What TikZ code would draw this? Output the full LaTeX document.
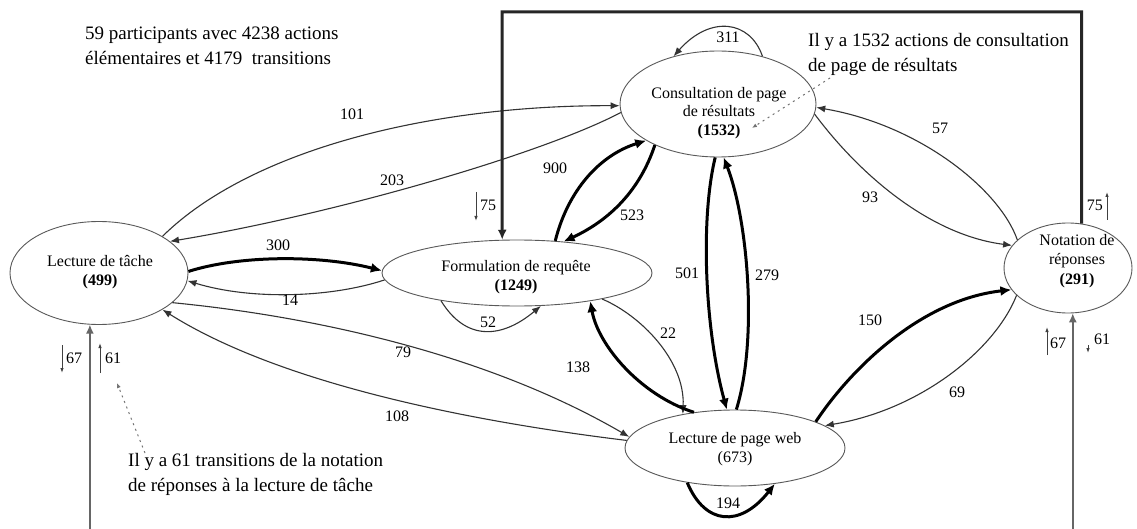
\documentclass[tikz,border=0pt]{standalone}
\usepackage{fontspec}
\setmainfont{Liberation Serif}
\usetikzlibrary{shapes.geometric,arrows.meta}
\begin{document}
\begin{tikzpicture}[x=1pt,y=-1pt,
  ell/.style={ellipse, draw=black!65, line width=0.9pt, fill=white, inner sep=0pt},
  ntext/.style={align=center, font=\fontsize{16}{19.5}\selectfont, inner sep=0pt},
  num/.style={font=\fontsize{16}{19}\selectfont, inner sep=0pt},
  note/.style={align=left, font=\fontsize{19}{25}\selectfont, inner sep=0pt, anchor=north west},
  thinarr/.style={draw=black!80, line width=1.1pt, -{Latex[length=9pt,width=7pt]}},
  thickarr/.style={draw=black, line width=3pt, -{Latex[length=11pt,width=10pt]}},
  toploop/.style={draw=black!85, line width=3pt, -{Latex[length=10pt,width=9pt]}},
  basearr/.style={draw=black!60, line width=1.5pt, -{Latex[length=9pt,width=8pt]}},
  smallarr/.style={draw=black!75, line width=0.9pt, -{Latex[length=5pt,width=3.5pt]}},
  dotarr/.style={draw=black!55, line width=1pt, dash pattern=on 2pt off 4pt, -{Latex[length=5pt,width=4pt]}}
]
\fill[white] (0,0) rectangle (1137,529);
\useasboundingbox (0,0) rectangle (1137,529);

% ellipses
\node[ell, minimum width=178pt, minimum height=103pt] (lt) at (99,273) {};
\node[ell, minimum width=270pt, minimum height=66pt] (fr) at (517,273) {};
\node[ell, minimum width=196pt, minimum height=106pt] (cp) at (718,104) {};
\node[ell, minimum width=220pt, minimum height=76pt] (wb) at (735,448) {};
\node[ell, minimum width=128pt, minimum height=90pt] (nr) at (1068,268) {};

% node texts
\node[ntext] (ltt) at (100,272) {Lecture de tâche\\\textbf{(499)}};
\node[ntext] (frt) at (516,277) {Formulation de requête\\\textbf{(1249)}};
\node[ntext, font=\fontsize{16}{18.5}\selectfont] (cpt) at (719,113) {Consultation de page\\de résultats\\\textbf{(1532)}};
\node[ntext] (wbt) at (735,449) {Lecture de page web\\(673)};
\node[ntext] (nrt) at (1077,261) {Notation de\\réponses\\\textbf{(291)}};

% edges
\draw[thinarr] (lt.30) .. controls (250,150) and (430,105) .. (cp.181);
\draw[thinarr] (cp.185) .. controls (540,155) and (330,215) .. (lt.24);
\draw[thickarr] (lt.1) .. controls (240,255) and (320,255) .. (fr.179);
\draw[thinarr] (fr.183) .. controls (330,298) and (250,300) .. (lt.-5);
\draw[thinarr] (lt.-22) .. controls (300,315) and (480,350) .. (wb.174);
\draw[thinarr] (wb.176) .. controls (500,425) and (290,390) .. (lt.-30);
\draw[thinarr] (fr.200) .. controls (465,340) and (500,340) .. (fr.-54);
\draw[thickarr] (fr.40) .. controls (568,190) and (600,155) .. (cp.207);
\draw[thickarr] (cp.213) .. controls (640,190) and (610,220) .. (fr.34);
\draw[thickarr] (cp.-93) .. controls (700,220) and (705,330) .. (wb.102);
\draw[thickarr] (wb.88) .. controls (758,340) and (748,220) .. (cp.-84);
\draw[thinarr] (fr.-17) .. controls (640,315) and (685,360) .. (wb.147);
\draw[thickarr] (wb.139) .. controls (640,395) and (598,345) .. (fr.-21);
\draw[thickarr] (wb.216) .. controls (705,525) and (740,528) .. (wb.-42);
\draw[thinarr] (cp.47) .. controls (750,20) and (710,15) .. (cp.133);
\draw[thinarr] (nr.151) .. controls (1000,190) and (920,125) .. (cp.-2);
\draw[thinarr] (cp.-6) .. controls (860,175) and (930,235) .. (nr.158);
\draw[thickarr] (wb.18) .. controls (850,370) and (920,300) .. (nr.201);
\draw[thinarr] (nr.208) .. controls (995,350) and (920,410) .. (wb.14);

% top loop
\coordinate (tl) at (502,12);
\draw[toploop] (nr.73) |- (tl) -- (fr.114);

% bottom lines
\coordinate (bot) at (0,529);
\draw[basearr] (bot -| lt.260) -- (lt.260);
\draw[basearr] (bot -| nr.-84) -- (nr.-84);

% edge labels
\node[num] (l101) at (352,114) {101};
\node[num] (l203) at (392,180) {203};
\node[num] (l300) at (278,245) {300};
\node[num] (l14) at (290,300) {14};
\node[num] (l79) at (403,352) {79};
\node[num] (l108) at (397,416) {108};
\node[num] (l52) at (488,322) {52};
\node[num] (l900) at (555,168) {900};
\node[num] (l523) at (632,215) {523};
\node[num] (l501) at (687,273) {501};
\node[num] (l279) at (767,275) {279};
\node[num] (l22) at (668,333) {22};
\node[num] (l138) at (578,367) {138};
\node[num] (l194) at (728,503) {194};
\node[num] (l311) at (728,37) {311};
\node[num] (l57) at (940,128) {57};
\node[num] (l93) at (870,197) {93};
\node[num] (l150) at (870,320) {150};
\node[num] (l69) at (957,392) {69};

% small arrows
\coordinate (s1a) at (62,345); \coordinate (s1b) at (62,373);
\draw[smallarr] (s1a) -- (s1b);
\node[num, anchor=west] (l67a) at (66,358) {67};
\coordinate (s2a) at (100,373); \coordinate (s2b) at (100,343);
\draw[smallarr] (s2a) -- (s2b);
\node[num, anchor=west] (l61a) at (105,358) {61};
\coordinate (s3a) at (476,192); \coordinate (s3b) at (476,221);
\draw[smallarr] (s3a) -- (s3b);
\node[num, anchor=west] (l75a) at (480,205) {75};
\coordinate (s4a) at (1107,220); \coordinate (s4b) at (1107,192);
\draw[smallarr] (s4a) -- (s4b);
\node[num, anchor=east] (l75b) at (1103,205) {75};
\coordinate (s5a) at (1047,355); \coordinate (s5b) at (1047,327);
\draw[smallarr] (s5a) -- (s5b);
\node[num, anchor=west] (l67b) at (1050,343) {67};
\coordinate (s6a) at (1088,345); \coordinate (s6b) at (1088,353);
\draw[smallarr] (s6a) -- (s6b);
\node[num, anchor=west] (l61b) at (1094,339) {61};

% annotations
\node[note] (t1) at (85,27) {59 participants avec 4238 actions\\élémentaires et 4179\ \ transitions};
\node[note] (t2) at (808,33) {Il y a 1532 actions de consultation\\de page de résultats};
\node[note] (t3) at (128,453) {Il y a 61 transitions de la notation\\de réponses à la lecture de tâche};
\coordinate (n1s) at (830,78); \coordinate (n1e) at (752,128);
\draw[dotarr] (n1s) -- (n1e);
\coordinate (n2s) at (145,453); \coordinate (n2e) at (117,383);
\draw[dotarr] (n2s) -- (n2e);
\end{tikzpicture}
\end{document}
